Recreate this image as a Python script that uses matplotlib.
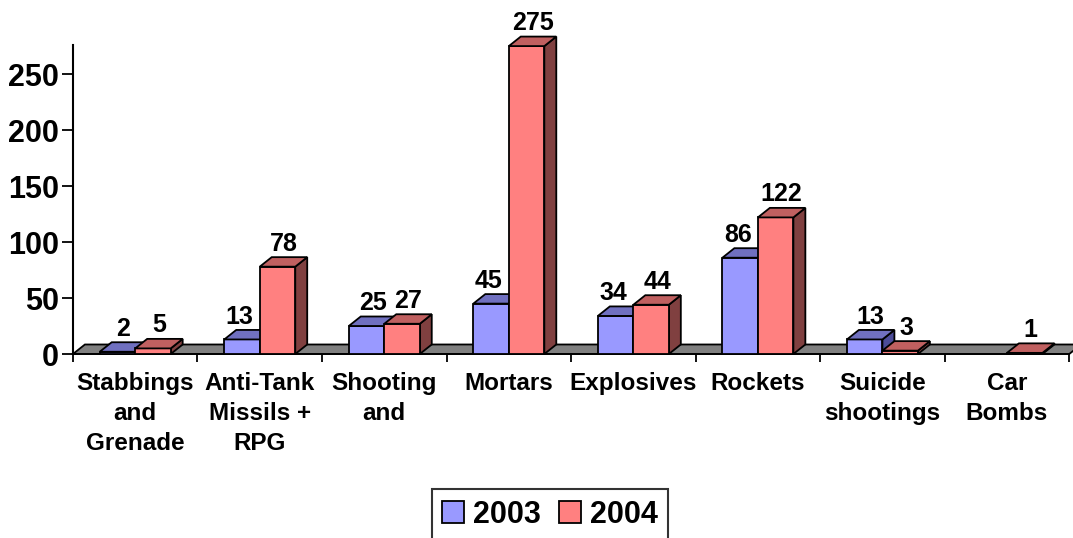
import numpy as np
import matplotlib
matplotlib.use('Agg')
import matplotlib.pyplot as plt
from matplotlib.patches import Polygon, Patch

categories = ['Stabbings\nand\nGrenade', 'Anti-Tank\nMissils +\nRPG', 'Shooting\nand',
              'Mortars', 'Explosives', 'Rockets', 'Suicide\nshootings', 'Car\nBombs']
vals_2003 = [2, 13, 25, 45, 34, 86, 13, None]
vals_2004 = [5, 78, 27, 275, 44, 122, 3, 1]
series_names = ['2003', '2004']

plt.rcParams['font.family'] = ['Liberation Sans', 'DejaVu Sans']
plt.rcParams['font.weight'] = 'bold'

# face colours: front, top, side
blue = ('#9999FF', '#7070C0', '#4C4C99')
red = ('#FF8080', '#C06060', '#804040')

fig = plt.figure(figsize=(10.73, 5.38), dpi=100)
ax = fig.add_axes([0.068, 0.342, 0.9285, 0.5744])
ax.set_xlim(-0.5, 7.5)
ax.set_ylim(0, 276)

# depth of the fake 3d look, in data units (~12px right, ~9.5px up)
ddx = 0.096
ddy = 8.5
bw = 0.285
lw = 1.3


def box3d(x0, h, colors):
    x1 = x0 + bw
    front = Polygon([(x0, 0), (x1, 0), (x1, h), (x0, h)], closed=True,
                    fc=colors[0], ec='black', lw=lw, clip_on=False, zorder=3)
    top = Polygon([(x0, h), (x1, h), (x1 + ddx, h + ddy), (x0 + ddx, h + ddy)], closed=True,
                  fc=colors[1], ec='black', lw=lw, clip_on=False, zorder=3)
    side = Polygon([(x1, 0), (x1 + ddx, ddy), (x1 + ddx, h + ddy), (x1, h)], closed=True,
                   fc=colors[2], ec='black', lw=lw, clip_on=False, zorder=3)
    for p in (side, front, top):
        ax.add_patch(p)


# floor
n = len(categories)
floor = Polygon([(-0.5, 0), (n - 0.5, 0), (n - 0.5 + ddx, ddy), (-0.5 + ddx, ddy)], closed=True,
                fc='#808080', ec='black', lw=lw, clip_on=False, zorder=2)
ax.add_patch(floor)

for i in range(n):
    for k, (v, x0, cols) in enumerate(((vals_2003[i], i - bw, blue), (vals_2004[i], i, red))):
        if v is None:
            continue
        box3d(x0, v, cols)
        # excel nudges the 2003 label left when the 2004 bar next to it is taller
        if k == 0 and vals_2004[i] is not None and vals_2004[i] - v > 5:
            ax.annotate(str(v), (x0 + bw, v + ddy), xytext=(-4.5, 1),
                        textcoords='offset points', ha='right', va='bottom',
                        fontsize=18, fontweight='bold', zorder=5, annotation_clip=False)
        else:
            ax.annotate(str(v), (x0 + bw / 2 + ddx / 2, v + ddy), xytext=(0, 1),
                        textcoords='offset points', ha='center', va='bottom',
                        fontsize=18, fontweight='bold', zorder=5, annotation_clip=False)

ax.set_xticks(np.arange(n))
ax.set_xticklabels(categories, fontsize=17.5, fontweight='bold', linespacing=1.4)
ax.set_xticks(np.arange(n + 1) - 0.5, minor=True)
ax.tick_params(axis='x', which='major', length=0, pad=13)
ax.tick_params(axis='x', which='minor', length=6, width=1.3, direction='out')

ax.set_yticks([0, 50, 100, 150, 200, 250])
ax.tick_params(axis='y', length=8, width=1.3, labelsize=22, pad=2)
for t in ax.get_yticklabels():
    t.set_fontweight('bold')

ax.spines['top'].set_visible(False)
ax.spines['right'].set_visible(False)
ax.spines['left'].set_linewidth(1.5)
ax.spines['bottom'].set_linewidth(1.3)
ax.spines['bottom'].set_zorder(2.5)

handles = [Patch(fc=blue[0], ec='black', lw=1.3), Patch(fc=red[0], ec='black', lw=1.3)]
leg = fig.legend(handles, series_names, loc='upper center', bbox_to_anchor=(550 / 1073, 1 - 489 / 538),
                 ncol=2, frameon=True, fancybox=False, edgecolor='black',
                 prop={'size': 22, 'weight': 'bold'}, handlelength=0.7, handleheight=0.7,
                 handletextpad=0.3, columnspacing=0.6, borderpad=0.35, borderaxespad=0)
leg.get_frame().set_linewidth(1.5)

fig.savefig('out.png', dpi=100)
